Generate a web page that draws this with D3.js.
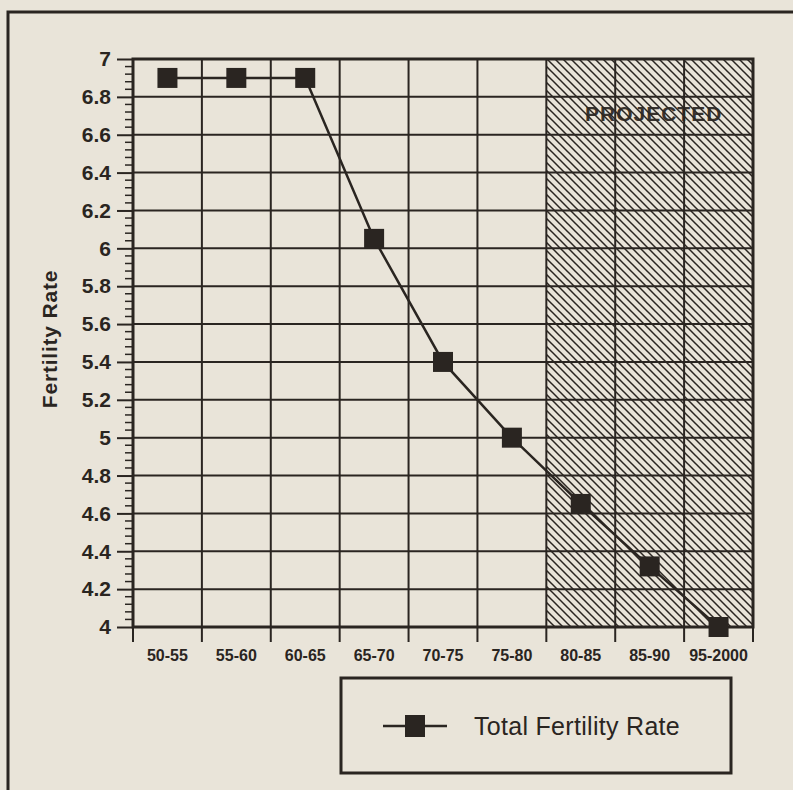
<!DOCTYPE html>
<meta charset="utf-8">
<script src="https://d3js.org/d3.v7.min.js"></script>
<style>
  body { margin: 0; background: #e9e4d9; }
  text { font-family: Arial, "Liberation Sans", Helvetica, sans-serif; fill: #2a2521; }
</style>
<div id="chart"></div>
<script>

// data
var periods = ["50-55", "55-60", "60-65", "65-70", "70-75", "75-80", "80-85", "85-90", "95-2000"]
var fertility = [6.9, 6.9, 6.9, 6.05, 5.4, 5.0, 4.65, 4.32, 4.0]
var yTickValues = [4, 4.2, 4.4, 4.6, 4.8, 5, 5.2, 5.4, 5.6, 5.8, 6, 6.2, 6.4, 6.6, 6.8, 7]
var projectedPeriods = ["80-85", "85-90", "95-2000"]
var seriesName = "Total Fertility Rate"

var width = 793, height = 790
var ink = "#2a2521"
var plot = {left: 133, right: 753, top: 59, bottom: 627}

var svg = d3.select("#chart").append("svg")
    .attr("width", width)
    .attr("height", height)

// hatch pattern for projected area
var defs = svg.append("defs")
defs.append("pattern")
    .attr("id", "hatch")
    .attr("patternUnits", "userSpaceOnUse")
    .attr("width", 8).attr("height", 8)
  .append("path")
    .attr("d", "M-2,6 L2,10 M0,0 L8,8 M6,-2 L10,2")
    .attr("stroke", ink)
    .attr("stroke-width", 1.5)

// outer frame (runs off the page at right and bottom)
svg.append("rect")
    .attr("x", 8).attr("y", 12)
    .attr("width", 820).attr("height", 820)
    .attr("fill", "none")
    .attr("stroke", ink)
    .attr("stroke-width", 3)

var x = d3.scaleBand()
    .domain(periods)
    .range([plot.left, plot.right])
    .padding(0)

var y = d3.scaleLinear()
    .domain([4, 7])
    .range([plot.bottom, plot.top])

// projected shading
var px0 = x(projectedPeriods[0])
var px1 = x(projectedPeriods[projectedPeriods.length - 1]) + x.bandwidth()
svg.append("rect")
    .attr("x", px0).attr("y", plot.top)
    .attr("width", px1 - px0).attr("height", plot.bottom - plot.top)
    .attr("fill", "url(#hatch)")

// grid
svg.selectAll(".hgrid")
  .data(yTickValues)
  .enter().append("line")
    .attr("x1", plot.left).attr("x2", plot.right)
    .attr("y1", function(d) { return y(d) })
    .attr("y2", function(d) { return y(d) })
    .attr("stroke", ink)
    .attr("stroke-width", 2)

var boundaries = periods.map(function(p) { return x(p) }).concat([plot.right])
svg.selectAll(".vgrid")
  .data(boundaries)
  .enter().append("line")
    .attr("x1", function(d) { return d }).attr("x2", function(d) { return d })
    .attr("y1", plot.top).attr("y2", plot.bottom + 15)
    .attr("stroke", ink)
    .attr("stroke-width", 2)

// plot frame
svg.append("rect")
    .attr("x", plot.left).attr("y", plot.top)
    .attr("width", plot.right - plot.left).attr("height", plot.bottom - plot.top)
    .attr("fill", "none")
    .attr("stroke", ink)
    .attr("stroke-width", 3)

// projected label
svg.append("text")
    .attr("x", (px0 + px1) / 2 + 4)
    .attr("y", 121)
    .attr("text-anchor", "middle")
    .style("font-size", "21px")
    .style("font-weight", "bold")
    .style("letter-spacing", "1px")
    .style("opacity", 0.92)
    .text("PROJECTED")

// y axis with minor ticks
var yAxis = d3.axisLeft(y)
    .tickValues(yTickValues)
    .tickSize(16)
    .tickPadding(6)
    .tickFormat(d3.format("~g"))
var gy = svg.append("g")
    .attr("transform", "translate(" + plot.left + ",0)")
    .call(yAxis)
gy.select(".domain").remove()
gy.selectAll("line").attr("stroke", ink).attr("stroke-width", 2)
gy.selectAll("text")
    .style("font-size", "21px")
    .style("font-weight", "bold")
    .style("font-family", "Arial, 'Liberation Sans', sans-serif")
    .attr("fill", ink)

var minor = d3.range(4, 7.0001, 0.04).filter(function(v) {
  return Math.abs(v * 5 - Math.round(v * 5)) > 1e-6
})
svg.selectAll(".minor")
  .data(minor)
  .enter().append("line")
    .attr("x1", plot.left - 8).attr("x2", plot.left)
    .attr("y1", function(d) { return y(d) })
    .attr("y2", function(d) { return y(d) })
    .attr("stroke", ink)
    .attr("stroke-width", 1.5)

// x labels
svg.selectAll(".xlab")
  .data(periods)
  .enter().append("text")
    .attr("x", function(d) { return x(d) + x.bandwidth() / 2 })
    .attr("y", 661)
    .attr("text-anchor", "middle")
    .style("font-size", "16px")
    .style("font-weight", "bold")
    .text(function(d) { return d })

// y title
svg.append("text")
    .attr("transform", "translate(57,339) rotate(-90)")
    .attr("text-anchor", "middle")
    .style("font-size", "21px")
    .style("font-weight", "bold")
    .style("letter-spacing", "0.8px")
    .text("Fertility Rate")

// the series
var pts = periods.map(function(p, i) { return {period: p, value: fertility[i]} })
var line = d3.line()
    .x(function(d) { return x(d.period) + x.bandwidth() / 2 })
    .y(function(d) { return y(d.value) })

svg.append("path")
    .datum(pts)
    .attr("d", line)
    .attr("fill", "none")
    .attr("stroke", ink)
    .attr("stroke-width", 2.5)

svg.selectAll(".marker")
  .data(pts)
  .enter().append("rect")
    .attr("x", function(d) { return x(d.period) + x.bandwidth() / 2 - 10 })
    .attr("y", function(d) { return y(d.value) - 10 })
    .attr("width", 20).attr("height", 20)
    .attr("fill", ink)

// legend
var legend = svg.append("g")
legend.append("rect")
    .attr("x", 341).attr("y", 678)
    .attr("width", 390).attr("height", 95)
    .attr("fill", "none")
    .attr("stroke", ink)
    .attr("stroke-width", 3)
legend.append("line")
    .attr("x1", 383).attr("x2", 447)
    .attr("y1", 726).attr("y2", 726)
    .attr("stroke", ink)
    .attr("stroke-width", 2.5)
legend.append("rect")
    .attr("x", 405).attr("y", 715)
    .attr("width", 20).attr("height", 22)
    .attr("fill", ink)
legend.append("text")
    .attr("x", 474).attr("y", 735)
    .style("font-size", "25px")
    .style("letter-spacing", "0.3px")
    .text(seriesName)

</script>
